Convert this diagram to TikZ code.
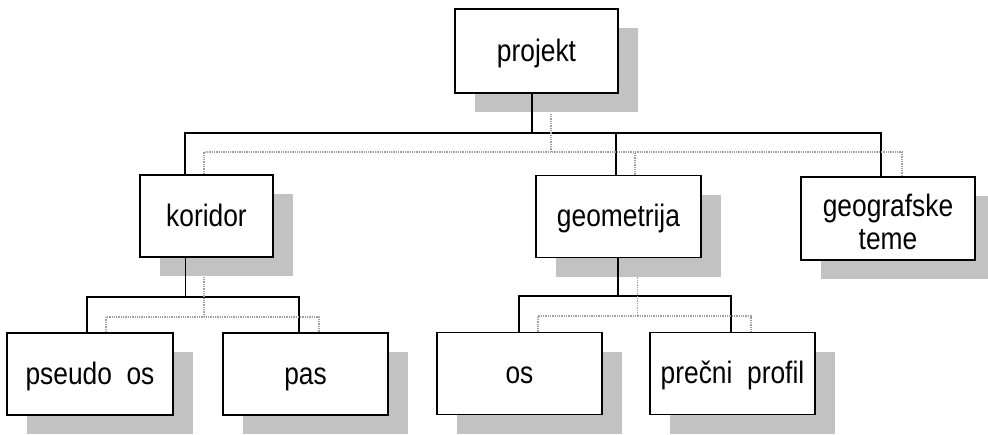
\documentclass[tikz,border=0pt]{standalone}
\usepackage{fontspec}
\setmainfont[FakeStretch=0.85]{Liberation Sans}
\usetikzlibrary{shadows}
\begin{document}
\begin{tikzpicture}[x=1pt,y=-1pt,
 box/.style={draw=black, line width=1.6pt, fill=white, minimum width=165pt, minimum height=82pt,
   inner sep=0pt, font=\fontsize{31}{33}\selectfont, align=center, text height=26pt, text depth=6pt,
   drop shadow={shadow xshift=20pt, shadow yshift=-19pt, fill=gray!48, opacity=1, draw=none}},
 conn/.style={line width=1.6pt, black},
 dconn/.style={line width=1.3pt, gray!75, densely dotted}]
\useasboundingbox (0,0) rectangle (988,434);

\node[box, minimum width=163pt, minimum height=84pt] (projekt) at (536.5,51) {projekt};
\node[box, minimum width=133pt] (koridor) at (206.5,216) {koridor};
\node[box] (geometrija) at (618.5,216.5) {geometrija};
\node[box, minimum width=174pt, minimum height=83pt, text height={}, text depth={}] (geografske) at (888,218.5) {\rule{0pt}{30pt}geografske\\teme};
\node[box, minimum width=166pt] (pseudo) at (90,374) {pseudo\ \ os};
\node[box] (pas) at (305.5,374) {pas};
\node[box] (os) at (519.5,373.5) {os};
\node[box] (precni) at (732.5,373.5) {prečni\ \ profil};

\coordinate (busA) at (0,133);
\coordinate (busB) at (0,152);
\coordinate (busC) at (0,297);
\coordinate (busD) at (0,317);
\coordinate (busE) at (0,296);
\coordinate (busF) at (0,316);

\coordinate (pS) at ([xshift=-4.5]projekt.south);
\coordinate (pSd) at ([xshift=14.5,yshift=-20]projekt.south);
\coordinate (kN) at ([xshift=-21.5]koridor.north);
\coordinate (kNd) at ([xshift=-2.5]koridor.north);
\coordinate (gN) at ([xshift=-2.5]geometrija.north);
\coordinate (gNd) at ([xshift=16.5]geometrija.north);
\coordinate (fN) at ([xshift=-7]geografske.north);
\coordinate (fNd) at ([xshift=14]geografske.north);

\coordinate (kS) at ([xshift=-21]koridor.south);
\coordinate (kSd) at ([xshift=-2.5,yshift=-19]koridor.south);
\coordinate (psN) at ([xshift=-3]pseudo.north);
\coordinate (psNd) at ([xshift=16]pseudo.north);
\coordinate (paN) at ([xshift=-6.5]pas.north);
\coordinate (paNd) at ([xshift=13.5]pas.north);

\coordinate (gS) at ([xshift=-0.5]geometrija.south);
\coordinate (gSd) at ([xshift=19,yshift=-19]geometrija.south);
\coordinate (oN) at ([xshift=-0.5]os.north);
\coordinate (oNd) at ([xshift=18.5]os.north);
\coordinate (prN) at ([xshift=-1.5]precni.north);
\coordinate (prNd) at ([xshift=18.5]precni.north);

% level 1
\draw[conn] (pS) -- (pS |- busA);
\draw[conn] (kN) |- (busA -| fN) -- (fN);
\draw[conn] (gN) -- (gN |- busA);
\draw[dconn] (pSd) -- (pSd |- busB);
\draw[dconn] (kNd) |- (busB -| fNd) -- (fNd);
\draw[dconn] (gNd) -- (gNd |- busB);

% level 2 left
\draw[conn] (kS) -- (kS |- busC);
\draw[conn] (psN) |- (busC -| paN) -- (paN);
\draw[dconn] (kSd) -- (kSd |- busD);
\draw[dconn] (psNd) |- (busD -| paNd) -- (paNd);

% level 2 right
\draw[conn] (gS) -- (gS |- busE);
\draw[conn] (oN) |- (busE -| prN) -- (prN);
\draw[dconn] (gSd) -- (gSd |- busF);
\draw[dconn] (oNd) |- (busF -| prNd) -- (prNd);
\end{tikzpicture}
\end{document}
